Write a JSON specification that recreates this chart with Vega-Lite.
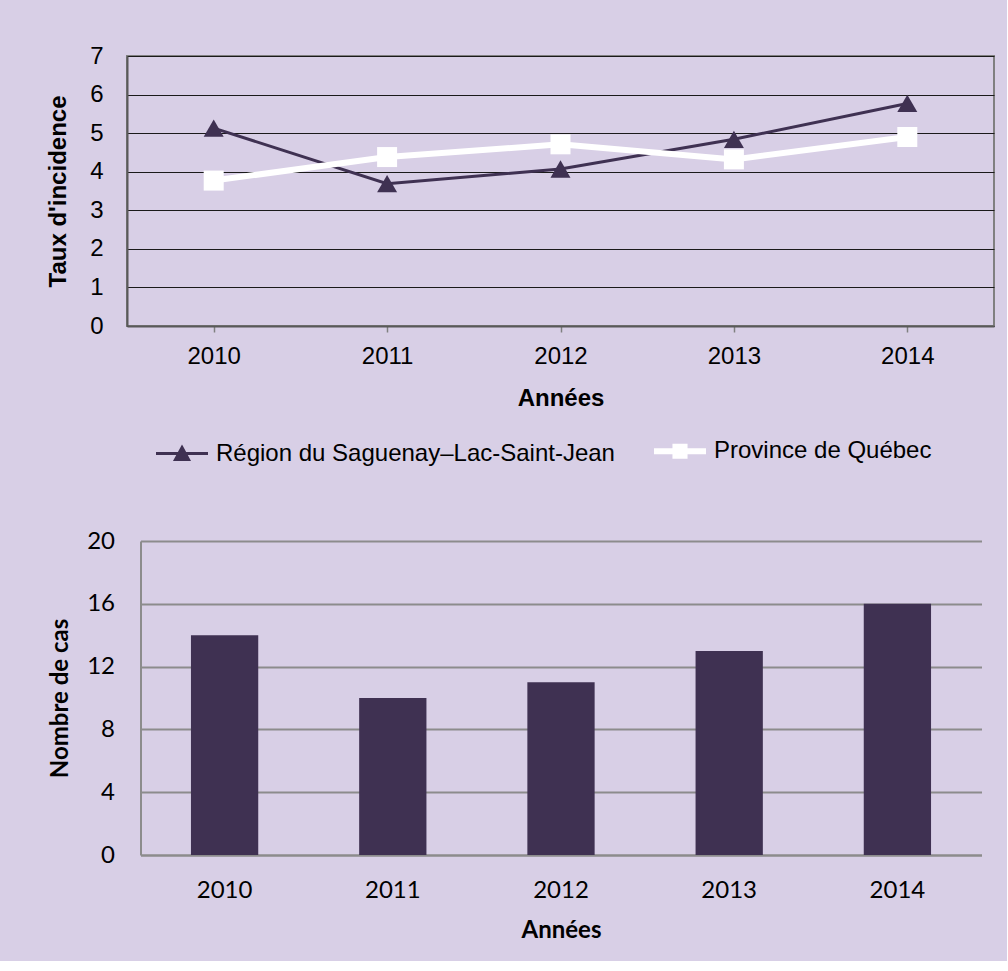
{
  "$schema": "https://vega.github.io/schema/vega-lite/v6.json",
  "background": "#d8cfe6",
  "padding": {"left": 45, "top": 43, "right": 12, "bottom": 19},
  "autosize": {"type": "pad"},
  "center": true,
  "spacing": 17,
  "resolve": {"scale": {"color": "independent"}, "legend": {"color": "independent"}},
  "datasets": {
    "taux": [
      {"annee": "2010", "serie": "Région du Saguenay–Lac-Saint-Jean", "valeur": 5.13},
      {"annee": "2011", "serie": "Région du Saguenay–Lac-Saint-Jean", "valeur": 3.69},
      {"annee": "2012", "serie": "Région du Saguenay–Lac-Saint-Jean", "valeur": 4.07},
      {"annee": "2013", "serie": "Région du Saguenay–Lac-Saint-Jean", "valeur": 4.84},
      {"annee": "2014", "serie": "Région du Saguenay–Lac-Saint-Jean", "valeur": 5.77},
      {"annee": "2010", "serie": "Province de Québec", "valeur": 3.77},
      {"annee": "2011", "serie": "Province de Québec", "valeur": 4.38},
      {"annee": "2012", "serie": "Province de Québec", "valeur": 4.71},
      {"annee": "2013", "serie": "Province de Québec", "valeur": 4.32},
      {"annee": "2014", "serie": "Province de Québec", "valeur": 4.9}
    ],
    "cas": [
      {"annee": "2010", "nombre": 14},
      {"annee": "2011", "nombre": 10},
      {"annee": "2012", "nombre": 11},
      {"annee": "2013", "nombre": 13},
      {"annee": "2014", "nombre": 16}
    ]
  },
  "vconcat": [
    {
      "resolve": {"scale": {"color": "independent"}, "legend": {"color": "independent"}},
      "hconcat": [
        {
          "width": 867,
          "height": 270,
          "data": {"name": "taux"},
          "view": {"stroke": "#808080", "strokeWidth": 2},
          "encoding": {
            "x": {
              "field": "annee", "type": "ordinal",
              "scale": {"type": "point", "padding": 0.5},
              "axis": {
                "title": "Années", "labelAngle": 0,
                "labelFont": "Liberation Sans", "labelFontSize": 24, "labelColor": "#000000", "labelPadding": 12,
                "titleFont": "Liberation Sans", "titleFontSize": 24, "titleFontWeight": "bold", "titleColor": "#000000", "titlePadding": 18,
                "tickSize": 6, "tickColor": "#808080", "tickWidth": 1.5,
                "domainColor": "#595959", "domainWidth": 2, "grid": false
              }
            },
            "y": {
              "field": "valeur", "type": "quantitative",
              "scale": {"domain": [0, 7], "nice": false, "zero": true},
              "axis": {
                "title": "Taux d'incidence", "values": [0, 1, 2, 3, 4, 5, 6, 7],
                "labelFont": "Liberation Sans", "labelFontSize": 24, "labelColor": "#000000", "labelPadding": 24,
                "titleFont": "Liberation Sans", "titleFontSize": 24, "titleFontWeight": "bold", "titleColor": "#000000", "titlePadding": 19,
                "ticks": false, "domainColor": "#595959", "domainWidth": 2,
                "grid": true, "gridColor": "#1a1a1a", "gridWidth": 1.2
              }
            }
          },
          "layer": [
            {
              "transform": [{"filter": "datum.serie === 'Région du Saguenay–Lac-Saint-Jean'"}],
              "mark": {"type": "line", "strokeWidth": 3, "strokeJoin": "miter"},
              "encoding": {
                "color": {
                  "field": "serie", "type": "nominal",
                  "scale": {"domain": ["Région du Saguenay–Lac-Saint-Jean", "Province de Québec"], "range": ["#3f3152", "#ffffff"]},
                  "legend": {
                    "orient": "bottom", "direction": "horizontal", "title": null,
                    "offset": -14, "padding": 43,
                    "symbolSize": 2704, "labelOffset": 22, "columnPadding": 27, "labelLimit": 0,
                    "labelBaseline": "middle",
                    "labelFont": "Liberation Sans", "labelFontSize": 24, "labelColor": "#000000",
                    "encode": {
                      "symbols": {
                        "update": {
                          "shape": {"signal": "datum.value === 'Province de Québec' ? 'M-1,0L1,0M-0.175,-0.175L0.175,-0.175L0.175,0.175L-0.175,0.175Z' : 'M-1,0L1,0M0,-0.23L0.25,0.23L-0.25,0.23Z'"},
                          "strokeWidth": {"signal": "datum.value === 'Province de Québec' ? 6 : 3"},
                          "fill": {"signal": "datum.value === 'Province de Québec' ? '#ffffff' : '#3f3152'"},
                          "fillOpacity": {"value": 1},
                          "opacity": {"value": 1}
                        }
                      }
                    }
                  }
                }
              }
            },
            {
              "transform": [{"filter": "datum.serie === 'Province de Québec'"}],
              "mark": {"type": "line", "strokeWidth": 6, "strokeJoin": "miter"},
              "encoding": {
                "color": {"field": "serie", "type": "nominal"}
              }
            },
            {
              "transform": [{"filter": "datum.serie === 'Région du Saguenay–Lac-Saint-Jean'"}],
              "mark": {"type": "point", "shape": "triangle-up", "filled": true, "size": 400, "opacity": 1, "strokeWidth": 0, "color": "#3f3152"}
            },
            {
              "transform": [{"filter": "datum.serie === 'Province de Québec'"}],
              "mark": {"type": "point", "shape": "square", "filled": true, "size": 400, "opacity": 1, "strokeWidth": 0, "color": "#ffffff"}
            }
          ]
        }
      ]
    },
    {
      "hconcat": [
        {
          "width": 841,
          "height": 314,
          "data": {"name": "cas"},
          "view": {"stroke": null},
          "mark": {"type": "bar", "color": "#3f3152"},
          "encoding": {
            "x": {
              "field": "annee", "type": "ordinal",
              "scale": {"paddingInner": 0.6, "paddingOuter": 0.3},
              "axis": {
                "title": "Années", "labelAngle": 0,
                "labelFont": "Lato", "labelFontSize": 24, "labelColor": "#000000", "labelPadding": 23,
                "titleFont": "Lato", "titleFontSize": 24, "titleFontWeight": "bold", "titleColor": "#000000", "titlePadding": 16,
                "ticks": false, "domainColor": "#8c8c8c", "domainWidth": 2, "grid": false
              }
            },
            "y": {
              "field": "nombre", "type": "quantitative",
              "scale": {"domain": [0, 20], "nice": false},
              "axis": {
                "title": "Nombre de cas", "values": [0, 4, 8, 12, 16, 20],
                "labelFont": "Lato", "labelFontSize": 24, "labelColor": "#000000", "labelPadding": 26,
                "titleFont": "Lato", "titleFontSize": 24, "titleFontWeight": "bold", "titleColor": "#000000", "titlePadding": 14,
                "ticks": false, "domainColor": "#8c8c8c", "domainWidth": 2,
                "grid": true, "gridColor": "#8c8c8c", "gridWidth": 2
              }
            }
          }
        }
      ]
    }
  ]
}
